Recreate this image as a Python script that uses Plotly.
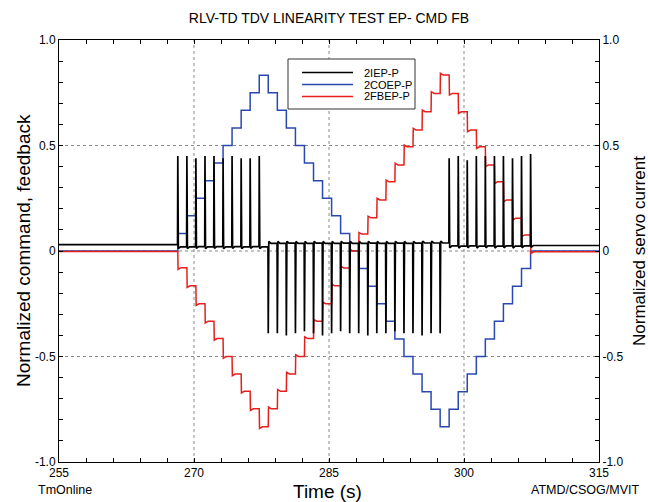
import plotly.graph_objects as go

# ---------------- data ----------------
x_range = [255, 315]
y_range = [-1.0, 1.0]

# instants at which the command steps (s)
step_times = [268.20, 269.21, 270.21, 271.22, 272.22, 273.23, 274.23, 275.24, 276.24, 277.25,
              278.25, 279.26, 280.26, 281.27, 282.27, 283.28, 284.28, 285.29, 286.29, 287.30,
              288.30, 289.31, 290.31, 291.32, 292.32, 293.33, 294.33, 295.34, 296.34, 297.35,
              298.35, 299.36, 300.36, 301.37, 302.37, 303.38, 304.38, 305.39, 306.39, 307.40]

# 2COEP-P : normalized command (level held after each step)
cmd_pre = 0.0
cmd_levels = [0.083, 0.167, 0.250, 0.333, 0.417, 0.500, 0.583, 0.667, 0.750, 0.833,
              0.750, 0.667, 0.583, 0.500, 0.417, 0.333, 0.250, 0.167, 0.083, 0.000,
              -0.083, -0.167, -0.250, -0.333, -0.417, -0.500, -0.583, -0.667, -0.750, -0.833,
              -0.750, -0.667, -0.583, -0.500, -0.417, -0.333, -0.250, -0.167, -0.083, 0.000]

# 2FBEP-P : normalized feedback (level held after each step)
fb_pre = -0.002
fb_levels = [-0.079, -0.165, -0.250, -0.333, -0.415, -0.500, -0.583, -0.665, -0.748, -0.833,
             -0.748, -0.665, -0.583, -0.500, -0.415, -0.333, -0.250, -0.165, -0.080, 0.000,
             0.080, 0.157, 0.242, 0.328, 0.408, 0.494, 0.573, 0.660, 0.747, 0.834,
             0.747, 0.660, 0.573, 0.494, 0.408, 0.328, 0.242, 0.155, 0.076, -0.004]

# 2IEP-P : normalized servo current (spike peak at each step, baseline after it)
cur_pre = 0.030
spike_peaks = [0.45, 0.45, 0.44, 0.45, 0.45, 0.44, 0.45, 0.44, 0.44, 0.45,
               -0.39, -0.39, -0.40, -0.39, -0.38, -0.39, -0.40, -0.39, -0.38, -0.39,
               -0.39, -0.40, -0.39, -0.39, -0.38, -0.39, -0.39, -0.40, -0.39, -0.39,
               0.44, 0.45, 0.43, 0.45, 0.45, 0.45, 0.45, 0.44, 0.45, 0.46]
cur_base = [0.020, 0.020, 0.021, 0.020, 0.021, 0.020, 0.021, 0.020, 0.021, 0.020,
            0.036, 0.036, 0.037, 0.036, 0.036, 0.037, 0.036, 0.036, 0.037, 0.036,
            0.036, 0.037, 0.036, 0.036, 0.037, 0.036, 0.037, 0.038, 0.038, 0.038,
            0.024, 0.023, 0.024, 0.023, 0.024, 0.023, 0.024, 0.023, 0.024, 0.026]

# tick positions (every tick mark) and the labelled ones
x_tick_marks = [255, 258, 261, 264, 267, 270, 273, 276, 279, 282, 285, 288, 291, 294, 297,
                300, 303, 306, 309, 312, 315]
x_tick_labels = {255: "255", 270: "270", 285: "285", 300: "300", 315: "315"}
y_tick_marks = [-1.0, -0.9, -0.8, -0.7, -0.6, -0.5, -0.4, -0.3, -0.2, -0.1, 0.0,
                0.1, 0.2, 0.3, 0.4, 0.5, 0.6, 0.7, 0.8, 0.9, 1.0]
y_tick_labels = {-1.0: "-1.0", -0.5: "-0.5", 0.0: "0", 0.5: "0.5", 1.0: "1.0"}
x_grid = [270, 285, 300]
y_grid = [-0.5, 0.0, 0.5]

series_names = ["2IEP-P", "2COEP-P", "2FBEP-P"]
series_colors = ["#000000", "#2a48b0", "#e3201c"]

# ---------------- build the line paths ----------------
cmd_x = [x_range[0]] + step_times + [x_range[1]]
cmd_y = [cmd_pre] + cmd_levels + [cmd_levels[-1]]

fb_x, fb_y = [x_range[0]], [fb_pre]
prev = fb_pre
for t, lv in zip(step_times, fb_levels):
    d = 1 if lv > prev else -1
    fb_x += [t, t + 0.03, t + 0.35]
    fb_y += [prev, lv + 0.008 * d, lv]
    prev = lv
fb_x.append(x_range[1])
fb_y.append(prev)

cur_x, cur_y = [x_range[0]], [cur_pre]
prev = cur_pre
for t, pk, b in zip(step_times, spike_peaks, cur_base):
    d = 1 if pk > 0 else -1
    cur_x += [t - 0.03, t, t + 0.06, t + 0.3]
    cur_y += [prev, pk, b - 0.009 * d, b]
    prev = b
cur_x.append(x_range[1])
cur_y.append(prev)

FONT = "Liberation Sans, Arial, Helvetica, sans-serif"

fig = go.Figure()
fig.add_trace(go.Scatter(x=cur_x, y=cur_y, mode="lines", name=series_names[0],
                         line=dict(color=series_colors[0], width=1.7), yaxis="y2",
                         showlegend=False))
fig.add_trace(go.Scatter(x=cmd_x, y=cmd_y, mode="lines", name=series_names[1],
                         line=dict(color=series_colors[1], width=1.5, shape="hv"),
                         showlegend=False))
fig.add_trace(go.Scatter(x=fb_x, y=fb_y, mode="lines", name=series_names[2],
                         line=dict(color=series_colors[2], width=1.5),
                         showlegend=False))

axis_common = dict(showline=True, linecolor="black", linewidth=1,
                   ticks="inside", ticklen=4, tickwidth=1, tickcolor="#000000",
                   tickfont=dict(family=FONT, size=12, color="black"),
                   zeroline=False, showgrid=False, layer="above traces")

y_text = [y_tick_labels.get(v, "") for v in y_tick_marks]

fig.update_layout(
    width=648, height=502,
    margin=dict(l=59, r=49, t=40, b=40),
    paper_bgcolor="white", plot_bgcolor="white",
    font=dict(family=FONT, color="black"),
    title=dict(text="RLV-TD TDV LINEARITY TEST EP- CMD FB", x=0.5, xref="paper",
               y=1 - 18 / 502, yref="container", yanchor="middle", xanchor="center",
               font=dict(family=FONT, size=14, color="black")),
    xaxis=dict(range=x_range, tickmode="array", tickvals=x_tick_marks,
               ticktext=[x_tick_labels.get(v, "") for v in x_tick_marks],
               mirror="ticks", **axis_common),
    yaxis=dict(range=y_range, tickmode="array", tickvals=y_tick_marks, ticktext=y_text,
               mirror=True, **axis_common),
    yaxis2=dict(range=y_range, overlaying="y", side="right", tickmode="array",
                tickvals=y_tick_marks, ticktext=y_text, **axis_common),
    showlegend=False,
)

# dotted grid at the labelled interior ticks
for gx in x_grid:
    fig.add_shape(type="line", xref="x", yref="paper", x0=gx, x1=gx, y0=0, y1=1,
                  line=dict(color="#8a8a8a", width=1, dash="dot"), layer="below")
for gy in y_grid:
    fig.add_shape(type="line", xref="paper", yref="y", x0=0, x1=1, y0=gy, y1=gy,
                  line=dict(color="#8a8a8a", width=1, dash="dot"), layer="below")

# plot-area geometry in pixels, used to place text and legend
PL, PR, PT, PB = 59, 648 - 49, 40, 502 - 40
PW, PH = PR - PL, PB - PT


def px_x(p):
    return (p - PL) / PW


def px_y(p):
    return (PB - p) / PH


# axis titles and footer texts
fig.add_annotation(text="Time (s)", x=px_x(327), y=px_y(491), xref="paper", yref="paper",
                   showarrow=False, xanchor="center", yanchor="middle",
                   font=dict(family=FONT, size=19, color="black"))
fig.add_annotation(text="Normalized command, feedback", x=px_x(23), y=px_y(251),
                   xref="paper", yref="paper", showarrow=False, textangle=-90,
                   xanchor="center", yanchor="middle",
                   font=dict(family=FONT, size=19, color="black"))
fig.add_annotation(text="Normalized servo current", x=px_x(639), y=px_y(251),
                   xref="paper", yref="paper", showarrow=False, textangle=-90,
                   xanchor="center", yanchor="middle",
                   font=dict(family=FONT, size=17, color="black"))
fig.add_annotation(text="TmOnline", x=px_x(36), y=px_y(490), xref="paper", yref="paper",
                   showarrow=False, xanchor="left", yanchor="middle", align="left",
                   font=dict(family=FONT, size=12.5, color="black"))
fig.add_annotation(text="ATMD/CSOG/MVIT", x=px_x(641), y=px_y(490), xref="paper", yref="paper",
                   showarrow=False, xanchor="right", yanchor="middle", align="right",
                   font=dict(family=FONT, size=12.5, color="black"))

# legend box drawn as shapes + text
fig.add_shape(type="rect", xref="paper", yref="paper",
              x0=px_x(288), x1=px_x(415), y0=px_y(109), y1=px_y(59),
              line=dict(color="#333333", width=1), fillcolor="white", layer="above")
row_y = [72.5, 84.5, 96.5]
for name, col, ry in zip(series_names, series_colors, row_y):
    fig.add_shape(type="line", xref="paper", yref="paper",
                  x0=px_x(302), x1=px_x(353), y0=px_y(ry), y1=px_y(ry),
                  line=dict(color=col, width=1.5), layer="above")
    fig.add_annotation(text=name, x=px_x(363), y=px_y(ry), xref="paper", yref="paper",
                       showarrow=False, xanchor="left", yanchor="middle", align="left",
                       borderpad=0, font=dict(family=FONT, size=11, color="black"))

fig.write_html("out.html")
